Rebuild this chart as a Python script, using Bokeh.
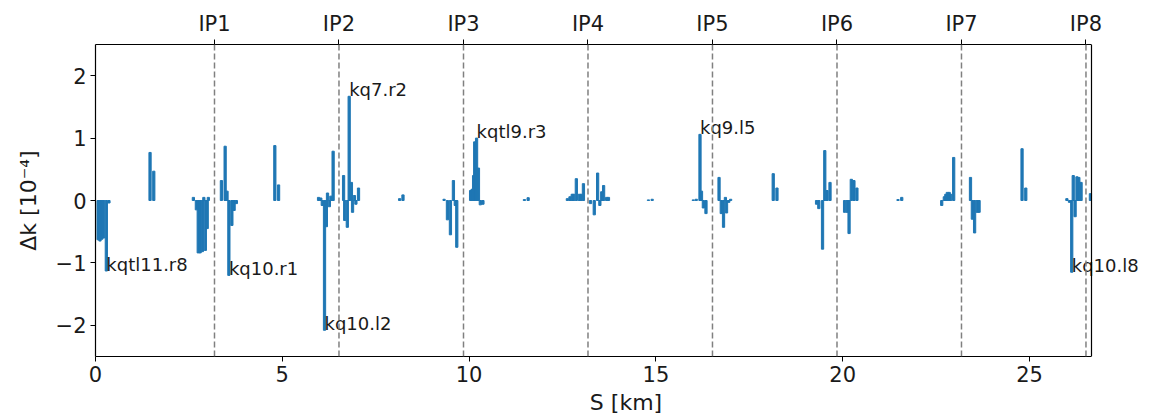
from bokeh.plotting import figure
from bokeh.models import Range1d, LinearAxis, FixedTicker, Span, ColumnDataSource
from bokeh.core.properties import value
from bokeh.embed import file_html
from bokeh.resources import INLINE

# ---------------- data ----------------
circumference_km = 26.659

ip_names = ["IP1", "IP2", "IP3", "IP4", "IP5", "IP6", "IP7", "IP8"]
ip_s = [3.185, 6.517, 9.850, 13.182, 16.514, 19.847, 23.179, 26.511]

# position of each magnet [km] and its strength error dk [1e-4]
quad_s = [
    0.07, 0.12, 0.17, 0.22, 0.29, 0.36,
    1.46, 1.56,
    2.62, 2.70, 2.75, 2.80, 2.86, 2.90, 2.94, 2.99, 3.02,
    3.37, 3.47, 3.52, 3.57, 3.65, 3.71, 3.77,
    4.80, 4.90,
    5.97, 6.03, 6.07, 6.13, 6.18, 6.21, 6.26, 6.30, 6.36,
    6.64, 6.67, 6.74, 6.79, 6.85, 6.88, 6.93, 6.97, 7.04,
    8.14, 8.23,
    9.33, 9.42, 9.50, 9.58, 9.63, 9.67,
    10.04, 10.08, 10.12, 10.15, 10.20, 10.25, 10.30, 10.37,
    11.48, 11.58,
    12.63, 12.70, 12.76, 12.80, 12.87, 12.95, 13.00, 13.06,
    13.25, 13.35, 13.44, 13.50, 13.55, 13.60, 13.68, 13.73,
    14.80, 14.90,
    16.00, 16.08, 16.18, 16.22, 16.27, 16.34,
    16.69, 16.75, 16.81, 16.86, 16.89, 16.95, 17.00,
    18.14, 18.24,
    19.30, 19.36, 19.46, 19.52, 19.58, 19.66,
    20.05, 20.12, 20.17, 20.23, 20.30, 20.38,
    21.48, 21.58,
    22.65, 22.72, 22.76, 22.80, 22.85, 22.89, 22.97,
    23.42, 23.47, 23.53, 23.60, 23.65,
    24.80, 24.90,
    26.00, 26.07, 26.13, 26.17, 26.22, 26.27, 26.32, 26.38,
    26.63,
]
quad_dk = [
    -0.63, -0.65, -0.62, -0.60, -1.13, -0.04,
    0.77, 0.47,
    0.05, -0.15, -0.84, -0.84, -0.82, 0.05, -0.80, -0.45, 0.05,
    0.32, 0.87, 0.15, -1.20, -0.40, -0.16, -0.05,
    0.88, 0.25,
    0.05, 0.04, -0.08, -2.08, -0.42, 0.12, -0.10, 0.07, 0.79,
    0.40, -0.32, -0.43, 1.67, 0.29, -0.19, 0.08, -0.06, 0.20,
    0.03, 0.09,
    0.02, -0.31, -0.55, 0.32, -0.08, -0.75,
    0.16, 0.18, 0.40, 0.94, 1.00, 0.52, -0.07, -0.06,
    0.015, 0.045,
    0.03, 0.06, 0.10, 0.10, 0.35, 0.10, 0.10, 0.27,
    -0.05, -0.23, 0.44, -0.08, 0.14, 0.24, 0.05, 0.05,
    0.01, 0.02,
    0.01, 0.02, 1.06, 0.15, -0.12, -0.21,
    0.37, -0.21, -0.43, 0.05, -0.20, -0.03, 0.02,
    0.43, 0.20,
    -0.06, -0.13, -0.78, 0.80, 0.16, 0.29,
    -0.19, -0.19, -0.53, 0.34, 0.32, 0.20,
    0.015, 0.05,
    -0.08, 0.06, 0.10, 0.13, 0.13, 0.10, 0.69,
    0.37, -0.30, -0.52, -0.19, -0.19,
    0.83, 0.20,
    0.03, -0.03, -1.15, 0.40, -0.26, 0.38, 0.37, 0.29,
    0.11,
]

label_names = ["kqtl11.r8", "kq10.r1", "kq10.l2", "kq7.r2", "kqtl9.r3", "kq9.l5", "kq10.l8"]
label_s = [0.29, 3.57, 6.13, 6.79, 10.20, 16.18, 26.13]
label_dk = [-1.13, -1.20, -2.08, 1.67, 1.00, 1.06, -1.15]

x_ticks = [0, 5, 10, 15, 20, 25]
y_ticks = [-2, -1, 0, 1, 2]
y_tick_labels = ["\u22122", "\u22121", "0", "1", "2"]

# ---------------- layout ----------------
FONT = "DejaVu Sans"
TICK_SIZE = "21px"
LABEL_SIZE = "22px"
W, H = 1160, 418
LEFT, TOP, BOTTOM = 95, 44, 62
BOX_RIGHT_PX = 1091     # where the visible axes box ends
FRAME_RIGHT_PX = 1156   # the drawing frame goes further so the last label is not clipped
x_end = circumference_km * (FRAME_RIGHT_PX - LEFT) / (BOX_RIGHT_PX - LEFT)

p = figure(width=W, height=H, output_backend="svg", toolbar_location=None,
           x_range=Range1d(0, x_end), y_range=Range1d(-2.5, 2.5),
           min_border_left=LEFT, min_border_right=W - FRAME_RIGHT_PX,
           min_border_top=TOP, min_border_bottom=BOTTOM)
p.background_fill_color = "white"
p.border_fill_color = "white"
p.outline_line_color = None
p.xgrid.visible = False
p.ygrid.visible = False

for ip in ip_s:
    p.add_layout(Span(location=ip, dimension="height", line_color="#808080",
                      line_dash="6 3", line_width=1.5))

# right side of the axes box
p.add_layout(Span(location=circumference_km, dimension="height",
                  line_color="black", line_width=1.2))

src = ColumnDataSource(dict(s=quad_s, dk=quad_dk))
p.vbar(x="s", top="dk", bottom=0, width=0.06, source=src,
       fill_color="#1f77b4", line_color="#1f77b4", line_width=1)

lab_src = ColumnDataSource(dict(s=label_s, dk=label_dk, name=label_names))
p.text(x="s", y="dk", text="name", source=lab_src, y_offset=-7,
       text_font=value(FONT), text_font_size="18px", text_color="#1a1a1a",
       text_baseline="alphabetic", text_align="left")

def style_axis(ax):
    ax.major_label_text_font = FONT
    ax.major_label_text_font_size = TICK_SIZE
    ax.major_label_text_color = "#1a1a1a"
    ax.axis_label_text_font = FONT
    ax.axis_label_text_font_size = LABEL_SIZE
    ax.axis_label_text_font_style = "normal"
    ax.axis_label_text_color = "#1a1a1a"
    ax.axis_line_color = "black"
    ax.axis_line_width = 1.2
    ax.major_tick_line_color = "black"
    ax.major_tick_in = 0
    ax.major_tick_out = 5
    ax.minor_tick_line_color = None

xa = p.xaxis[0]
xa.ticker = FixedTicker(ticks=x_ticks)
xa.bounds = (0, circumference_km)
xa.axis_label = "S [km]"
xa.major_label_standoff = 4
xa.axis_label_standoff = 5
style_axis(xa)

ya = p.yaxis[0]
ya.ticker = FixedTicker(ticks=y_ticks)
ya.major_label_overrides = {t: l for t, l in zip(y_ticks, y_tick_labels)}
ya.axis_label = "\u0394k [10\u207b\u2074]"
ya.major_label_standoff = 4
ya.axis_label_standoff = 12
style_axis(ya)

top = LinearAxis(ticker=FixedTicker(ticks=ip_s), bounds=(0, circumference_km),
                 major_label_overrides={s: n for s, n in zip(ip_s, ip_names)})
top.major_label_standoff = 4
style_axis(top)
p.add_layout(top, "above")

open("out.html", "w").write(file_html(p, INLINE))
